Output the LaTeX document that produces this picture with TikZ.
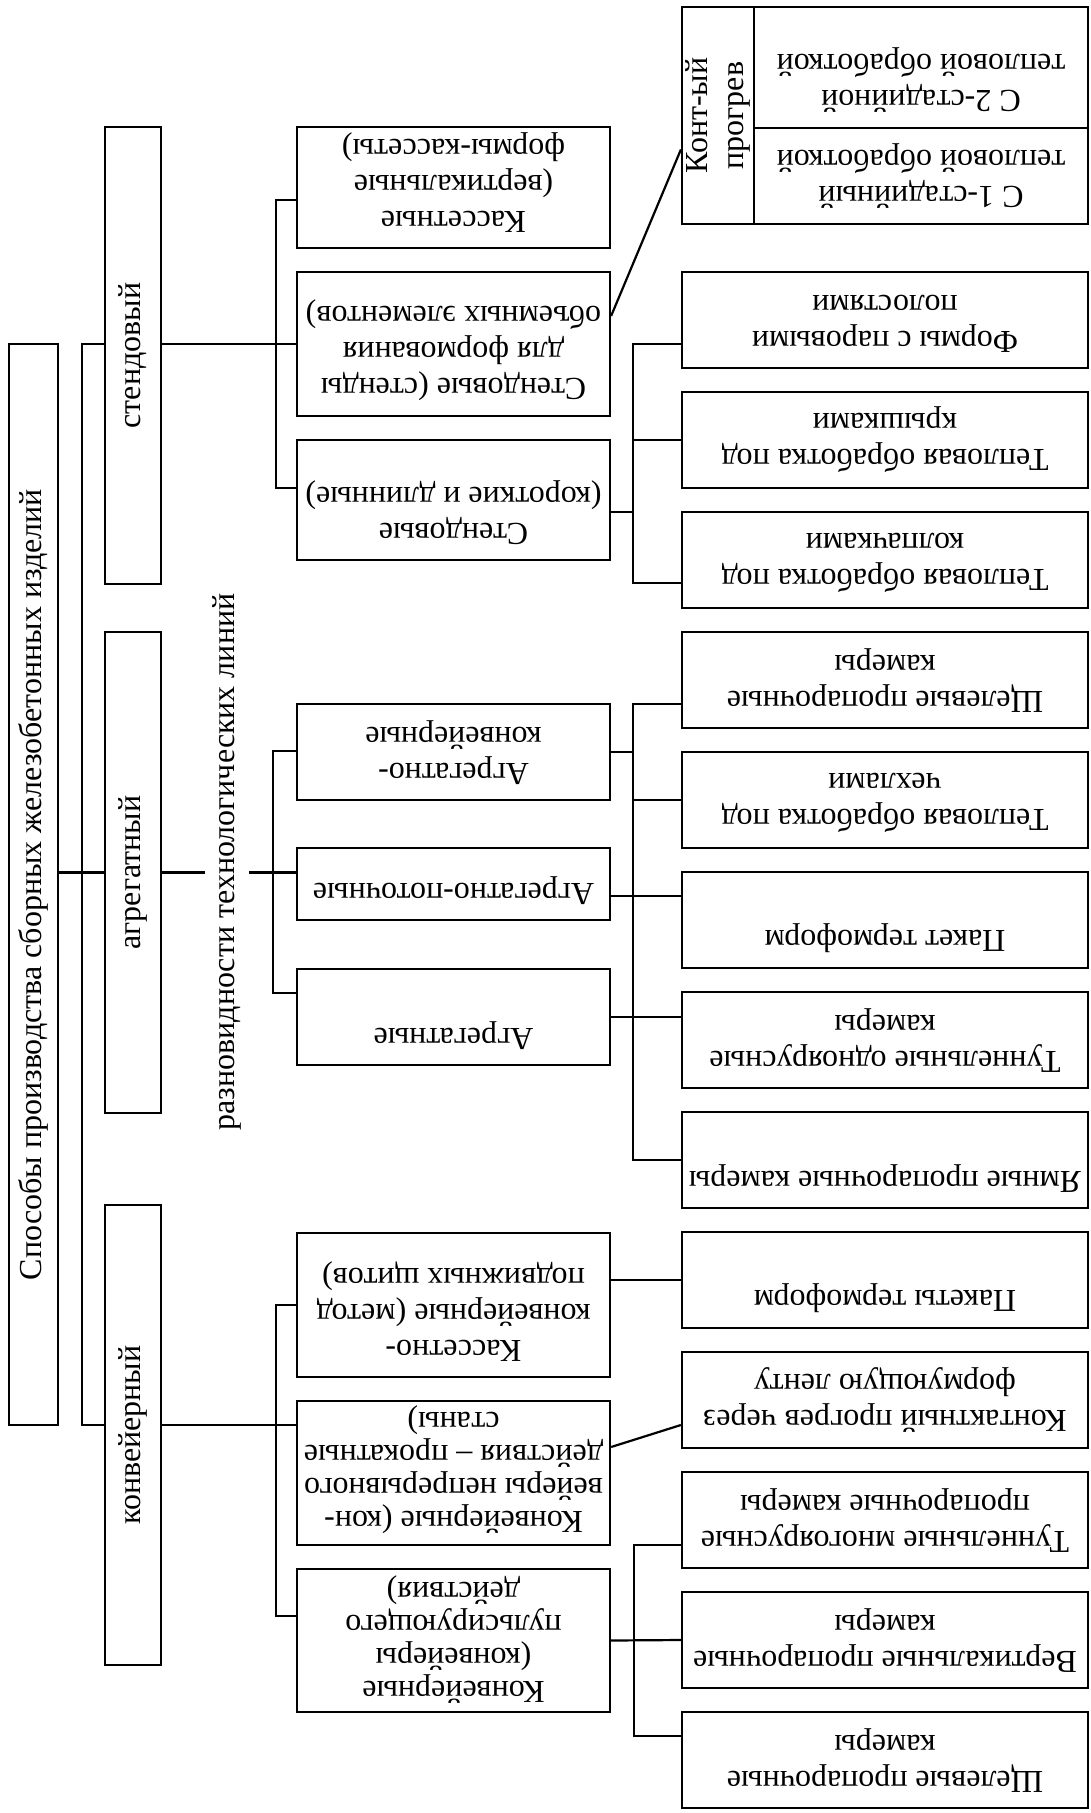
\documentclass[tikz,border=0pt]{standalone}
\usepackage{fontspec}
\setmainfont{Liberation Serif}

\begin{document}
\begin{tikzpicture}[x=0.5pt,y=-0.5pt,
		every node/.style={font=\fontsize{16pt}{18pt}\selectfont},
		box/.style={draw, line width=1.1pt, inner sep=0pt},
		vbox/.style={box, minimum width=28pt},
		mbox/.style={box, minimum width=156.5pt},
		rbox/.style={box, minimum width=203pt, minimum height=48pt},
		utext/.style={rotate=180, anchor=north, align=center, inner sep=0pt},
		tight/.style={font=\fontsize{16pt}{16.5pt}\selectfont},
		vtext/.style={rotate=90, align=center},
		link/.style={line width=1.1pt}
	]
	\useasboundingbox (0,0) rectangle (1091,1813);

	% main box and the three ways
	\node[box, minimum width=24.5pt, minimum height=540.5pt] (main) at (33.5,884.5) {};
	\node[vtext] (main-t) at (main) {Способы производства сборных железобетонных изделий};

	\node[vbox, minimum height=228.5pt] (stend) at (133,355.5) {};
	\node[vtext] (stend-t) at (stend) {стендовый};
	\node[vbox, minimum height=240.5pt] (agr) at (133,872.5) {};
	\node[vtext] (agr-t) at (agr) {агрегатный};
	\node[vbox, minimum height=230pt] (konv) at (133,1435) {};
	\node[vtext] (konv-t) at (konv) {конвейерный};

	\node[vtext, inner sep=3.5pt] (lbl) at (227,862) {разновидности технологических линий};

	% middle column
	\node[mbox, minimum height=60.5pt] (kass) at (453.5,187.5) {};
	\node[utext] (kass-t) at ([yshift=8pt]kass.south) {Кассетные\\(вертикальные\\формы-кассеты)};
	\node[mbox, minimum height=72pt] (stendy) at (453.5,344) {};
	\node[utext] (stendy-t) at ([yshift=8pt]stendy.south) {Стендовые (стенды\\для формования\\объемных элементов)};
	\node[mbox, minimum height=60pt] (korot) at (453.5,500) {};
	\node[utext] (korot-t) at ([yshift=8pt]korot.south) {Стендовые\\(короткие и длинные)};

	\node[mbox, minimum height=48pt] (agk) at (453.5,752) {};
	\node[utext] (agk-t) at ([yshift=8pt]agk.south) {Агрегатно-\\конвейерные};
	\node[mbox, minimum height=36pt] (agp) at (453.5,884) {};
	\node[utext] (agp-t) at ([yshift=8pt]agp.south) {Агрегатно-поточные};
	\node[mbox, minimum height=48pt] (agg) at (453.5,1017) {};
	\node[utext] (agg-t) at ([yshift=8pt]agg.south) {Агрегатные};

	\node[mbox, minimum height=72pt] (kk) at (453.5,1305) {};
	\node[utext] (kk-t) at ([yshift=8pt]kk.south) {Кассетно-\\конвейерные (метод\\подвижных щитов)};
	\node[mbox, minimum height=72pt] (kn) at (453.5,1473) {};
	\node[utext, tight] (kn-t) at ([yshift=6pt]kn.south) {Конвейерные (кон-\\вейеры непрерывного\\действия – прокатные\\станы)};
	\node[mbox, minimum height=71.5pt] (kp) at (453.5,1640.5) {};
	\node[utext, tight] (kp-t) at ([yshift=4.5pt]kp.south) {Конвейерные\\(конвейеры\\пульсирующего\\действия)};

	% right column
	\node[box, minimum width=36pt, minimum height=108.5pt] (kontl) at (718,115.5) {};
	\node[vtext, inner sep=0pt] (kontl-t) at (kontl) {Конт-ый\\прогрев};
	\node[box, minimum width=167pt, minimum height=60.5pt] (kont2) at (921,67.5) {};
	\node[utext] (kont2-t) at ([yshift=8pt]kont2.south) {С 2-стадийной\\тепловой обработкой};
	\node[box, minimum width=167pt, minimum height=48pt] (kont1) at (921,176) {};
	\node[utext] (kont1-t) at ([yshift=8pt]kont1.south) {С 1-стадийный\\тепловой обработкой};

	\node[rbox] (forms) at (885,320) {};
	\node[utext] (forms-t) at ([yshift=8pt]forms.south) {Формы с паровыми\\полостями};
	\node[rbox] (krysh) at (885,440) {};
	\node[utext] (krysh-t) at ([yshift=8pt]krysh.south) {Тепловая обработка под\\крышками};
	\node[rbox] (kolp) at (885,560) {};
	\node[utext] (kolp-t) at ([yshift=8pt]kolp.south) {Тепловая обработка под\\колпачками};
	\node[rbox] (shch1) at (885,680) {};
	\node[utext] (shch1-t) at ([yshift=8pt]shch1.south) {Щелевые пропарочные\\камеры};
	\node[rbox] (chekh) at (885,800) {};
	\node[utext] (chekh-t) at ([yshift=8pt]chekh.south) {Тепловая обработка под\\чехлами};
	\node[rbox] (paket) at (885,920) {};
	\node[utext] (paket-t) at ([yshift=8pt]paket.south) {Пакет термоформ};
	\node[rbox] (tunn1) at (885,1040) {};
	\node[utext] (tunn1-t) at ([yshift=8pt]tunn1.south) {Туннельные одноярусные\\камеры};
	\node[rbox] (yam) at (885,1160) {};
	\node[utext] (yam-t) at ([yshift=8pt]yam.south) {Ямные пропарочные камеры};
	\node[rbox] (pakety) at (885,1280) {};
	\node[utext] (pakety-t) at ([yshift=8pt]pakety.south) {Пакеты термоформ};
	\node[rbox] (kontakt) at (885,1400) {};
	\node[utext] (kontakt-t) at ([yshift=8pt]kontakt.south) {Контактный прогрев через\\формующую ленту};
	\node[rbox] (tunnm) at (885,1520) {};
	\node[utext] (tunnm-t) at ([yshift=8pt]tunnm.south) {Туннельные многоярусные\\пропарочные камеры};
	\node[rbox] (vert) at (885,1640) {};
	\node[utext] (vert-t) at ([yshift=8pt]vert.south) {Вертикальные пропарочные\\камеры};
	\node[rbox] (shch2) at (885,1760) {};
	\node[utext] (shch2-t) at ([yshift=8pt]shch2.south) {Щелевые пропарочные\\камеры};

	% trunk points
	\coordinate (j0) at (82,344);
	\coordinate (j1) at (82,1425);
	\coordinate (j2) at (276,200);
	\coordinate (j3) at (276,488);
	\coordinate (j4) at (273,751);
	\coordinate (j5) at (273,993);
	\coordinate (j6) at (276,1305);
	\coordinate (j7) at (276,1616);
	\coordinate (j8) at (633,344);
	\coordinate (j9) at (633,583);
	\coordinate (j10) at (633,704);
	\coordinate (j11) at (633,1160);
	\coordinate (j12) at (634,1545);
	\coordinate (j13) at (634,1736);

	% first level
	\draw[link] (stend.west |- j0) -- (j0) -- (j1) -- (konv.west |- j1);
	\draw[link] (main.east |- agr) -- (agr.west);

	% second level
	\draw[link] (stend.east |- j0) -- (stendy.west |- j0);
	\draw[link] (kass.west |- j2) -- (j2) -- (j3) -- (korot.west |- j3);
	\draw[link] (agr.east) -- (lbl.north |- agr.east);
	\draw[link] (lbl.south |- agr.east) -- (agp.west |- agr.east);
	\draw[link] (agk.west |- j4) -- (j4) -- (j5) -- (agg.west |- j5);
	\draw[link] (konv.east |- j1) -- (kn.west |- j1);
	\draw[link] (kk.west |- j6) -- (j6) -- (j7) -- (kp.west |- j7);

	% third level
	\draw[link] ([yshift=14pt]stendy.east) -- ([yshift=-17pt]kontl.west);
	\draw[link] (forms.west |- j8) -- (j8) -- (j9) -- (kolp.west |- j9);
	\draw[link] (krysh.west) -- (krysh.west -| j8);
	\draw[link] ([yshift=-6pt]korot.east) -- ([yshift=-6pt]korot.east -| j8);

	\draw[link] (shch1.west |- j10) -- (j10) -- (j11) -- (yam.west);
	\draw[link] (agk.east) -- (agk.east -| j10);
	\draw[link] (chekh.west) -- (chekh.west -| j10);
	\draw[link] ([yshift=-6pt]agp.east) -- ([yshift=-6pt]agp.east -| paket.west);
	\draw[link] (agg.east) -- (agg.east -| tunn1.west);

	\draw[link] (kk.east |- pakety.west) -- (pakety.west);
	\draw[link] ([yshift=13pt]kn.east) -- ([yshift=-12.5pt]kontakt.west);
	\draw[link] (tunnm.west |- j12) -- (j12) -- (j13) -- (shch2.west |- j13);
	\draw[link] (kp.east) -- (vert.west);
\end{tikzpicture}
\end{document}
